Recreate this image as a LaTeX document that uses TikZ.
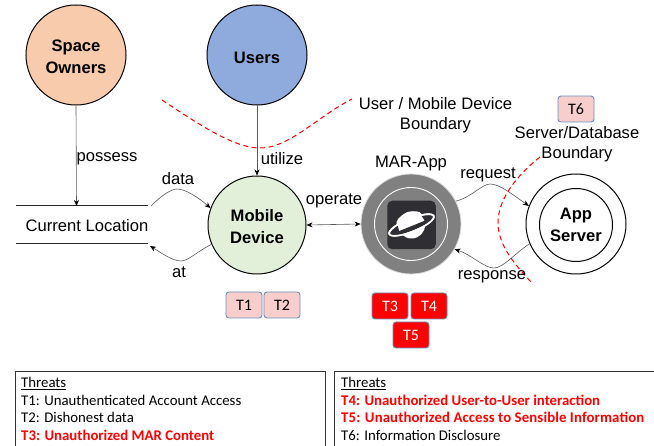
\documentclass[tikz,border=0pt]{standalone}
\usepackage{fontspec}
\setmainfont{Liberation Sans}
\newfontfamily\carl{Carlito}
\newfontfamily\carlwide[LetterSpace=0.8]{Carlito}
\usetikzlibrary{arrows.meta}
\definecolor{owner}{HTML}{F8CBAD}
\definecolor{userc}{HTML}{8FAADC}
\definecolor{mob}{HTML}{E2F0D9}
\definecolor{chipb}{HTML}{6C8EBF}
\definecolor{chipp}{HTML}{F8CECC}
\definecolor{dark}{HTML}{2E2E33}
\tikzset{
  every node/.style={font=\fontsize{16.6}{20}\selectfont, inner sep=0pt, align=center},
  circ/.style={circle, draw=black, line width=1pt, minimum size=100pt},
  bold14/.style={font=\fontsize{16.6}{22}\selectfont\bfseries},
  chip/.style={rounded corners=3pt, draw=chipb, line width=0.9pt, fill=chipp, minimum width=36pt, minimum height=26pt, font=\carl\fontsize{16}{18}\selectfont},
  redchip/.style={chip, fill=red, text=white},
  conn/.style={draw=black!65, line width=0.6pt, -{Stealth[length=6pt,width=5pt,black]}},
  boundary/.style={draw=red, line width=1pt, dash pattern=on 5pt off 3.5pt},
  legend/.style={draw=black!80, line width=0.8pt},
  ltext/.style={anchor=base west, font=\carl\fontsize{14.8}{17}\selectfont},
  lred/.style={ltext, text=red, font=\carl\fontsize{14.8}{17}\selectfont\bfseries},
  lredwide/.style={ltext, text=red, font=\carlwide\fontsize{14.8}{17}\selectfont\bfseries},
}
\begin{document}
\begin{tikzpicture}[x=1pt,y=-1pt]
\useasboundingbox (0,0) rectangle (654,446);
% actors
\node[circ, fill=owner] (owners) at (76,55) {};
\node[bold14] (ownerst) at (76,57) {Space\\Owners};
\node[circ, fill=userc] (users) at (257,55) {};
\node[bold14] (userst) at (257,57.5) {Users};
\node[circ, fill=mob, minimum size=98pt] (mobile) at (257,225) {};
\node[bold14] (mobilet) at (257,226.5) {Mobile\\Device};
% MAR-App
\node[circle, draw=black!15, fill=black!50, line width=0.8pt, minimum size=100pt] (app) at (411,224) {};
\node[circle, draw=white, line width=0.9pt, minimum size=73pt] (appin) at (411,224) {};
\node[rounded corners=5pt, fill=dark, minimum size=48.5pt] (icon) at (411.5,225) {};
\fill[white] (411.5,225) circle (13.5pt);
\draw[white, line width=1.6pt, rotate around={22:(411.5,225)}] (411.5,225) ellipse (24pt and 6.5pt);
\fill[dark, rotate around={22:(411.5,225)}] (388,226) arc[start angle=180,end angle=0,x radius=23.5pt,y radius=-4.5pt] -- cycle;
\draw[white, line width=1.6pt, rotate around={22:(411.5,225)}] (411.5,225) ellipse (24pt and 6.5pt);
\fill[white, rotate around={22:(411.5,225)}] (398,219) arc[start angle=180,end angle=360,x radius=13.5pt,y radius=-7pt] -- cycle;
% server
\node[circ, minimum size=100pt] (server) at (576,224) {};
\node[circ, minimum size=73pt, bold14] (serverin) at (576,225) {App\\Server};
% data store
\coordinate (s1) at (16,206);
\coordinate (s2) at (148,206);
\coordinate (s3) at (16,244);
\coordinate (s4) at (148,244);
\draw[black!85, line width=1pt] (s1) -- (s2) (s3) -- (s4);
\node[anchor=center] (loc) at (87,225.5) {Current Location};
\coordinate (possessEnd) at (76.5,206);
\draw[conn] (owners.south) -- (possessEnd);
\draw[conn] (users.south) -- (mobile.north);
\draw[conn, {Stealth[length=6pt,width=5pt,black]}-{Stealth[length=6pt,width=5pt,black]}] (mobile.east) -- (app.west);
% curved connectors
\coordinate (dataS) at (151,206);
\coordinate (atE) at (150,246);
\draw[conn] (dataS) .. controls (163,194) and (172,189) .. (177,189) .. controls (185,189) and (198,197) .. (mobile.160);
\draw[conn] (mobile.-157) .. controls (198,251) and (188,261) .. (181,261) .. controls (172,261) and (160,252) .. (atE);
\draw[conn] (app.27) .. controls (472,197) and (482,184) .. (490,184) .. controls (500,184) and (513,195) .. (server.159);
\draw[conn] (server.-157) .. controls (513,255) and (503,268) .. (494,268) .. controls (484,268) and (472,255) .. (app.-30);
% boundaries
\coordinate (b1) at (162,100);
\coordinate (b2) at (352,99);
\draw[boundary] (b1) .. controls (200,125) and (235,149) .. (262,148) .. controls (290,147) and (320,115) .. (b2);
\coordinate (c1) at (540,157);
\coordinate (c2) at (532,283);
\draw[boundary] (c1) .. controls (515,177) and (498,200) .. (498,223) .. controls (498,245) and (515,265) .. (c2);
% labels
\node (lpossess) at (107,158.5) {possess};
\node (lutilize) at (282,158.5) {utilize};
\node (ldata) at (178,178.5) {data};
\node (lat) at (179,272) {at};
\node (loperate) at (334,200.5) {operate};
\node (lmar) at (411,163.5) {MAR-App};
\node (lrequest) at (488,175) {request};
\node (lresponse) at (492,276.5) {response};
\node (lub) at (435.5,115.5) {User / Mobile Device\\Boundary};
\node (lsb) at (577,144.5) {Server/Database\\Boundary};
% chips
\node[chip] (t1) at (244,305) {T1};
\node[chip] (t2) at (282,305) {T2};
\node[redchip] (t3) at (390,306) {T3};
\node[redchip] (t4) at (429,306) {T4};
\node[redchip] (t5) at (411,335) {T5};
\node[chip] (t6) at (576,109) {T6};
% legends
\draw[legend] (15,460) -- (15,371) -- (325,371) -- (325,460);
\draw[legend] (334,460) -- (334,371) -- (654,371) -- (654,460);
\node[ltext] (a0) at (21,388) {\underline{Threats}};
\node[ltext] (a1) at (21,405.5) {T1: Unauthenticated Account Access};
\node[ltext] (a2) at (21,423) {T2: Dishonest data};
\node[lred] (a3) at (21,440.5) {T3: Unauthorized MAR Content};
\node[ltext] (b0) at (341,388) {\underline{Threats}};
\node[lred] (bb1) at (341,405.5) {T4: Unauthorized User-to-User interaction};
\node[lredwide] (bb2) at (341,423) {T5: Unauthorized Access to Sensible Information};
\node[ltext] (b3) at (341,440.5) {T6: Information Disclosure};
\end{tikzpicture}
\end{document}
